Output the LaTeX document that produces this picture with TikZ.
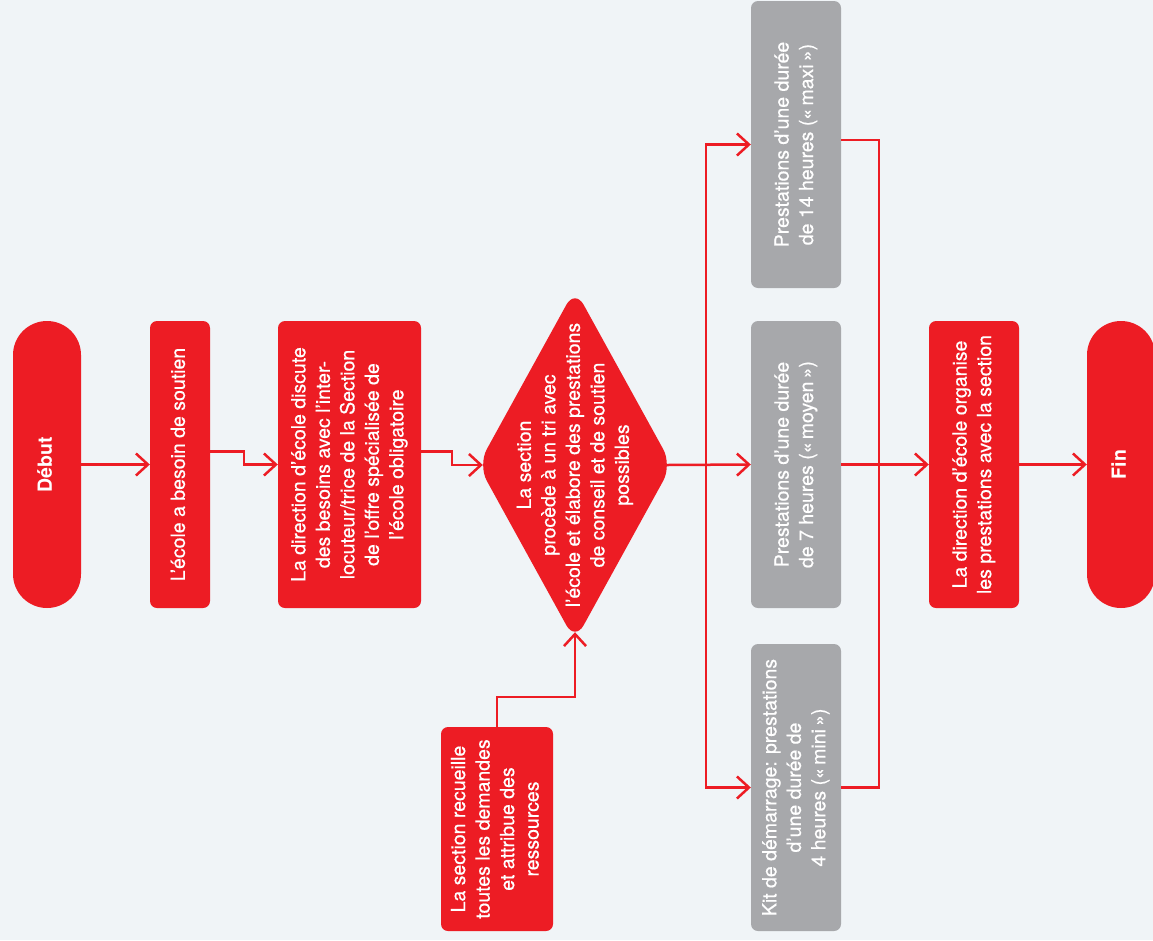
\documentclass[tikz,border=0pt]{standalone}
\usepackage{fontspec}
\setmainfont{TeX Gyre Heros}[UprightFeatures={FakeBold=0.5}]
\usepackage{graphicx}
\usetikzlibrary{arrows.meta,shapes.geometric,calc}

\definecolor{sred}{RGB}{237,28,36}
\definecolor{sgray}{RGB}{167,168,171}
\definecolor{sback}{RGB}{240,244,247}

\newcommand{\vlines}[1]{\rotatebox{90}{\begin{tabular}{@{}c@{}}#1\end{tabular}}}

\begin{document}
\begin{tikzpicture}[x=1pt,y=-1pt,
    box/.style={rectangle, rounded corners=7pt, fill=sred, text=white, inner sep=0pt,
      font=\fontsize{19.5}{24.5}\selectfont},
    grey/.style={box, fill=sgray},
    term/.style={box, rounded corners=34pt, font=\fontsize{19.5}{24.5}\selectfont\bfseries},
    flow/.style={draw=sred, line width=2.5pt, -{Straight Barb[length=12pt,width=22pt]}},
    link/.style={draw=sred, line width=2.5pt}]
    \useasboundingbox (0,0) rectangle (1153,940);
    \fill[sback] (0,0) rectangle (1153,940);

    \node[term, minimum width=68pt, minimum height=287pt] (debut) at (47,464.5) {\vlines{Début}};
    \node[box, minimum width=60pt, minimum height=287pt] (besoin) at (180,464.5)
        {\vlines{L’école a besoin de soutien}};
    \node[box, minimum width=143pt, minimum height=287pt] (discute) at (349.5,464.5)
        {\vlines{La direction d’école discute\\ des besoins avec l’inter-\\ locuteur/trice de la Section\\ de l’offre spécialisée de\\ l’école obligatoire}};
    \node[diamond, fill=sred, rounded corners=18pt, inner sep=0pt,
        minimum width=194pt, minimum height=352pt,
        label={[text=white, inner sep=0pt, font=\fontsize{19.5}{24.5}\selectfont]center:{\vlines{La section\\ procède à un tri avec\\ l’école et élabore des prestations\\ de conseil et de soutien\\ possibles}}}]
        (tri) at (575,465) {};
    \node[box, minimum width=112pt, minimum height=204pt] (recueille) at (497,829)
        {\vlines{La section recueille\\ toutes les demandes\\ et attribue des\\ ressources}};

    \node[grey, minimum width=90pt, minimum height=287pt] (maxi) at (796,144.5)
        {\vlines{Prestations d’une durée\\ de 14 heures («\,maxi\,»)}};
    \node[grey, minimum width=90pt, minimum height=287pt] (moyen) at (796,464.5)
        {\vlines{Prestations d’une durée\\ de 7 heures («\,moyen\,»)}};
    \node[grey, minimum width=90pt, minimum height=287pt] (mini) at (796,787.5)
        {\vlines{Kit de démarrage: prestations\\ d’une durée de\\ 4 heures («\,mini\,»)}};

    \node[box, minimum width=90pt, minimum height=287pt] (organise) at (974,464.5)
        {\vlines{La direction d’école organise\\ les prestations avec la section}};
    \node[term, minimum width=68pt, minimum height=287pt] (fin) at (1121,464.5) {\vlines{Fin}};

    \coordinate (triin) at ($(tri.west)+(5,0)$);
    \coordinate (triout) at ($(tri.east)+(-5,0)$);
    \coordinate (tribot) at ($(tri.south)+(0,-9)$);
    \coordinate (fork) at (706,465);

    \draw[flow] (debut) -- (besoin);
    \draw[flow] ([yshift=13pt]besoin.east) -- ++(34,0) |- (discute.west);
    \draw[flow] ([yshift=13pt]discute.east) -- ++(31,0) |- (triin);
    \draw[flow] (recueille.north) -- ++(0,-30) -| (tribot);

    \draw[flow] (triout) -- (moyen.west);
    \draw[flow] (fork) |- (maxi.west);
    \draw[flow] (fork) |- (mini.west);

    \draw[link] ([yshift=4.5pt]maxi.east) -| ($(mini.east)+(38,0)$) -- (mini.east);
    \draw[flow] (moyen) -- (organise);
    \draw[flow] (organise) -- (fin);
\end{tikzpicture}
\end{document}
